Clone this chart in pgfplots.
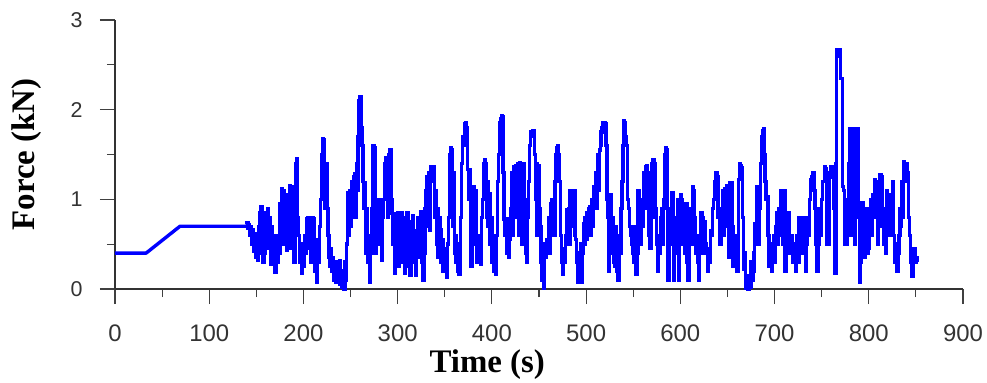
\documentclass[border=0pt]{standalone}
\usepackage{fontspec}
\setmainfont{Liberation Serif}
\setsansfont{Liberation Sans}
\usepackage{pgfplots}
\pgfplotsset{compat=1.18}
\begin{document}
\begin{tikzpicture}
\useasboundingbox (-115bp,-94bp) rectangle (872bp,289bp);
\begin{axis}[
  at={(0,0)}, anchor=south west,
  scale only axis, width=848bp, height=269bp,
  xmin=0, xmax=900, ymin=0, ymax=3,
  axis x line*=bottom, axis y line*=left,
  axis line style={-, black!80, line width=1.1bp},
  xtick={0,100,...,900}, ytick={0,1,2,3},
  minor x tick num=1, minor y tick num=1,
  tick align=outside,
  major tick length=15bp, minor tick length=8bp,
  tick style={black!75, line width=1.1bp},
  x tick label style={font=\sffamily\fontsize{24}{28}\selectfont, text=black!80, yshift=-17bp},
  y tick label style={font=\sffamily\fontsize{21.5}{26}\selectfont, text=black!80, xshift=-14bp},
  /pgf/number format/assume math mode=true,
  xlabel={Time (s)}, ylabel={Force (kN)},
  every axis x label/.style={at={(axis description cs:0.439,-0.2825)}, anchor=center, font=\bfseries\fontsize{33}{40}\selectfont},
  every axis y label/.style={at={(axis description cs:-0.104,0.5)}, rotate=90, anchor=center, font=\bfseries\fontsize{33}{40}\selectfont},
  clip=false,
]
\addplot[color={rgb,255:red,0;green,0;blue,255}, line width=3.4bp, line join=round, mark=none] coordinates {
(0,0.40)(33,0.40)(69,0.70)(139,0.70)
};
\addplot[const plot, color={rgb,255:red,0;green,0;blue,255}, line width=3.4bp, mark=none] coordinates {
(139,0.72)
(140,0.74)(141,0.68)(142,0.72)(143,0.60)(144,0.70)(145,0.50)(146,0.66)(147,0.42)(148,0.62)(149,0.35)
(150,0.55)(151,0.32)(152,0.70)(153,0.40)(154,0.85)(155,0.92)(156,0.50)(157,0.30)(158,0.75)(159,0.40)
(160,0.85)(161,0.55)(162,0.90)(163,0.45)(164,0.80)(165,0.28)(166,0.70)(167,0.35)(168,0.60)(169,0.22)
(170,0.19)(171,0.45)(172,0.30)(173,0.60)(174,0.40)(175,0.95)(176,0.55)(177,1.12)(178,0.50)(179,1.10)
(180,0.60)(181,0.80)(182,0.43)(183,1.05)(184,0.55)(185,1.15)(186,0.45)(187,1.12)(188,0.70)(189,1.14)
(190,0.30)(191,0.90)(192,1.40)(193,1.45)(194,0.80)(195,0.60)(196,0.30)(197,0.45)(198,0.18)(199,0.50)
(200,0.25)(201,0.60)(202,0.40)(203,0.78)(204,0.55)(205,0.80)(206,0.45)(207,0.75)(208,0.30)(209,0.80)
(210,0.40)(211,0.78)(212,0.20)(213,0.55)(214,0.07)(215,0.45)(216,0.30)(217,0.70)(218,1.00)(219,1.50)
(220,1.68)(221,1.66)(222,1.20)(223,0.90)(224,1.40)(225,0.90)(226,0.60)(227,0.35)(228,0.25)(229,0.45)
(230,0.20)(231,0.35)(232,0.10)(233,0.30)(234,0.08)(235,0.10)(236,0.30)(237,0.15)(238,0.32)(239,0.05)
(240,0.20)(241,0.02)(242,0.15)(243,0.00)(244,0.30)(245,0.10)(246,0.50)(247,1.07)(248,0.60)(249,1.10)
(250,0.70)(251,1.20)(252,0.80)(253,1.25)(254,1.29)(255,0.80)(256,1.40)(257,1.10)(258,1.70)(259,2.10)
(260,2.15)(261,1.80)(262,1.60)(263,1.20)(264,0.90)(265,1.18)(266,0.40)(267,0.90)(268,0.30)(269,0.60)
(270,0.07)(271,0.40)(272,0.90)(273,1.30)(274,1.60)(275,1.58)(276,0.40)(277,1.00)(278,0.50)(279,0.90)
(280,0.60)(281,1.00)(282,0.50)(283,0.32)(284,0.80)(285,1.00)(286,1.40)(287,1.46)(288,1.20)(289,0.80)
(290,1.10)(291,1.50)(292,1.55)(293,1.00)(294,0.84)(295,0.50)(296,0.84)(297,0.18)(298,0.70)(299,0.30)
(300,0.85)(301,0.25)(302,0.75)(303,0.45)(304,0.85)(305,0.30)(306,0.80)(307,0.18)(308,0.65)(309,0.40)
(310,0.85)(311,0.25)(312,0.70)(313,0.15)(314,0.75)(315,0.50)(316,0.82)(317,0.30)(318,0.65)(319,0.15)
(320,0.60)(321,0.80)(322,0.35)(323,0.70)(324,0.86)(325,0.80)(326,0.30)(327,0.10)(328,0.40)(329,0.90)
(330,1.10)(331,1.25)(332,0.70)(333,1.30)(334,0.65)(335,1.36)(336,1.30)(337,1.20)(338,1.36)(339,0.80)
(340,1.10)(341,0.50)(342,0.90)(343,0.35)(344,0.80)(345,0.66)(346,0.30)(347,0.55)(348,0.20)(349,0.45)
(350,0.25)(351,0.40)(352,0.13)(353,0.50)(354,0.80)(355,1.50)(356,1.58)(357,1.55)(358,0.70)(359,1.30)
(360,0.40)(361,0.60)(362,0.30)(363,0.50)(364,0.20)(365,0.16)(366,0.50)(367,0.80)(368,1.40)(369,1.70)
(370,1.60)(371,1.84)(372,1.85)(373,1.80)(374,1.33)(375,1.00)(376,1.33)(377,0.60)(378,0.25)(379,0.50)
(380,1.14)(381,0.90)(382,1.10)(383,0.50)(384,0.30)(385,0.60)(386,0.35)(387,0.60)(388,0.28)(389,0.80)
(390,1.00)(391,1.40)(392,1.44)(393,1.40)(394,0.80)(395,1.20)(396,0.70)(397,1.06)(398,0.50)(399,0.80)
(400,0.30)(401,0.60)(402,0.20)(403,0.45)(404,0.16)(405,0.60)(406,1.20)(407,1.50)(408,1.85)(409,1.90)
(410,1.93)(411,1.92)(412,1.30)(413,0.78)(414,0.60)(415,0.78)(416,0.40)(417,0.60)(418,0.35)(419,0.55)
(420,0.90)(421,1.30)(422,0.60)(423,1.36)(424,0.80)(425,1.38)(426,0.90)(427,1.40)(428,0.60)(429,1.41)
(430,0.80)(431,1.38)(432,0.50)(433,1.40)(434,0.70)(435,1.00)(436,0.40)(437,0.30)(438,0.80)(439,1.20)
(440,1.60)(441,1.75)(442,1.70)(443,1.77)(444,1.76)(445,1.50)(446,1.00)(447,1.40)(448,0.60)(449,1.38)
(450,0.90)(451,0.70)(452,0.30)(453,0.10)(454,0.40)(455,0.01)(456,0.50)(457,0.35)(458,0.55)(459,0.45)
(460,0.80)(461,0.40)(462,0.95)(463,0.60)(464,1.00)(465,1.00)(466,0.60)(467,1.20)(468,1.50)(469,1.58)
(470,1.60)(471,1.50)(472,1.20)(473,0.60)(474,0.30)(475,0.16)(476,0.45)(477,0.30)(478,0.60)(479,0.88)
(480,0.60)(481,0.90)(482,0.50)(483,1.10)(484,0.70)(485,1.10)(486,0.80)(487,1.10)(488,0.60)(489,0.55)
(490,0.30)(491,0.07)(492,0.40)(493,0.15)(494,0.50)(495,0.07)(496,0.40)(497,0.73)(498,0.50)(499,0.80)
(500,0.55)(501,0.85)(502,0.60)(503,0.90)(504,0.92)(505,0.60)(506,1.00)(507,0.70)(508,1.14)(509,1.00)
(510,1.30)(511,0.90)(512,1.50)(513,1.10)(514,1.55)(515,1.60)(516,1.75)(517,1.80)(518,1.85)(519,1.85)
(520,1.84)(521,1.60)(522,1.00)(523,0.80)(524,0.20)(525,0.60)(526,1.05)(527,0.40)(528,0.80)(529,0.30)
(530,0.25)(531,0.70)(532,0.20)(533,0.60)(534,0.10)(535,0.50)(536,0.40)(537,0.90)(538,1.20)(539,1.60)
(540,1.88)(541,1.86)(542,1.70)(543,1.60)(544,1.00)(545,0.90)(546,0.70)(547,0.60)(548,0.50)(549,0.40)
(550,0.70)(551,0.30)(552,0.50)(553,0.16)(554,0.40)(555,1.10)(556,0.60)(557,1.00)(558,0.50)(559,0.90)
(560,0.70)(561,1.30)(562,0.90)(563,1.36)(564,1.38)(565,1.30)(566,0.60)(567,1.00)(568,0.45)(569,0.80)
(570,1.40)(571,1.44)(572,1.40)(573,0.90)(574,0.80)(575,0.50)(576,0.20)(577,0.60)(578,0.40)(579,0.80)
(580,0.90)(581,0.50)(582,1.00)(583,1.50)(584,1.58)(585,1.55)(586,0.90)(587,0.10)(588,0.50)(589,0.60)
(590,0.80)(591,1.07)(592,1.05)(593,0.10)(594,0.60)(595,0.80)(596,0.40)(597,1.00)(598,0.10)(599,0.60)
(600,1.05)(601,1.00)(602,0.50)(603,0.80)(604,0.90)(605,0.40)(606,0.95)(607,0.30)(608,0.10)(609,0.50)
(610,0.60)(611,0.90)(612,0.50)(613,1.14)(614,1.10)(615,0.80)(616,0.40)(617,0.60)(618,0.30)(619,0.10)
(620,0.50)(621,0.60)(622,0.85)(623,0.80)(624,0.40)(625,0.60)(626,0.75)(627,0.50)(628,0.40)(629,0.20)
(630,0.45)(631,0.30)(632,0.65)(633,0.60)(634,0.90)(635,1.00)(636,1.20)(637,1.28)(638,1.30)(639,1.25)
(640,0.80)(641,0.90)(642,0.50)(643,0.90)(644,0.70)(645,1.10)(646,0.60)(647,1.12)(648,0.70)(649,1.15)
(650,0.80)(651,0.35)(652,1.18)(653,1.15)(654,1.18)(655,0.70)(656,0.25)(657,0.60)(658,0.30)(659,0.50)
(660,0.20)(661,0.60)(662,1.22)(663,1.40)(664,1.38)(665,1.35)(666,0.80)(667,0.22)(668,0.40)(669,0.01)
(670,0.02)(671,0.10)(672,0.00)(673,0.15)(674,0.02)(675,0.30)(676,0.10)(677,0.20)(678,0.40)(679,0.73)
(680,0.50)(681,1.14)(682,0.80)(683,0.50)(684,0.90)(685,1.40)(686,1.70)(687,1.76)(688,1.79)(689,1.50)
(690,1.20)(691,1.00)(692,1.03)(693,0.60)(694,0.25)(695,0.50)(696,0.30)(697,0.20)(698,0.40)(699,0.60)
(700,0.30)(701,0.70)(702,0.85)(703,0.50)(704,0.90)(705,0.60)(706,1.10)(707,0.70)(708,1.10)(709,0.50)
(710,1.10)(711,0.20)(712,0.60)(713,0.40)(714,0.70)(715,0.85)(716,0.40)(717,0.60)(718,0.60)(719,0.30)
(720,0.50)(721,0.40)(722,0.20)(723,0.50)(724,0.60)(725,0.30)(726,0.80)(727,0.50)(728,0.80)(729,0.40)
(730,0.70)(731,0.80)(732,0.40)(733,0.20)(734,0.50)(735,0.80)(736,0.60)(737,1.00)(738,1.22)(739,1.25)
(740,1.28)(741,1.30)(742,1.10)(743,0.90)(744,0.50)(745,0.20)(746,0.60)(747,0.50)(748,0.90)(749,0.60)
(750,1.00)(751,1.20)(752,1.20)(753,1.36)(754,1.34)(755,0.50)(756,0.85)(757,0.50)(758,1.25)(759,1.30)
(760,1.36)(761,1.35)(762,1.35)(763,0.90)(764,0.18)(765,1.40)(766,2.67)(767,2.67)(768,2.60)(769,2.67)
(770,2.35)(771,2.35)(772,1.14)(773,1.10)(774,0.50)(775,0.60)(776,0.50)(777,1.00)(778,0.90)(779,1.40)
(780,1.79)(781,0.60)(782,1.79)(783,0.90)(784,1.79)(785,0.50)(786,1.79)(787,1.20)(788,1.79)(789,0.80)
(790,0.08)(791,0.30)(792,0.70)(793,0.96)(794,0.90)(795,0.35)(796,0.60)(797,0.90)(798,0.70)(799,0.40)
(800,0.45)(801,0.70)(802,1.00)(803,0.60)(804,1.05)(805,0.90)(806,1.22)(807,0.80)(808,1.20)(809,0.50)
(810,1.20)(811,0.70)(812,1.27)(813,1.25)(814,0.70)(815,0.90)(816,0.50)(817,0.80)(818,0.40)(819,1.10)
(820,0.80)(821,1.05)(822,0.60)(823,1.05)(824,0.90)(825,1.20)(826,0.60)(827,0.40)(828,0.30)(829,0.50)
(830,0.20)(831,0.40)(832,0.60)(833,0.90)(834,0.70)(835,1.20)(836,0.80)(837,1.42)(838,1.40)(839,1.20)
(840,1.40)(841,1.30)(842,0.80)(843,0.60)(844,0.40)(845,0.30)(846,0.14)(847,0.40)(848,0.45)(849,0.30)
(850,0.35)(851,0.30)
};
\end{axis}
\end{tikzpicture}
\end{document}
